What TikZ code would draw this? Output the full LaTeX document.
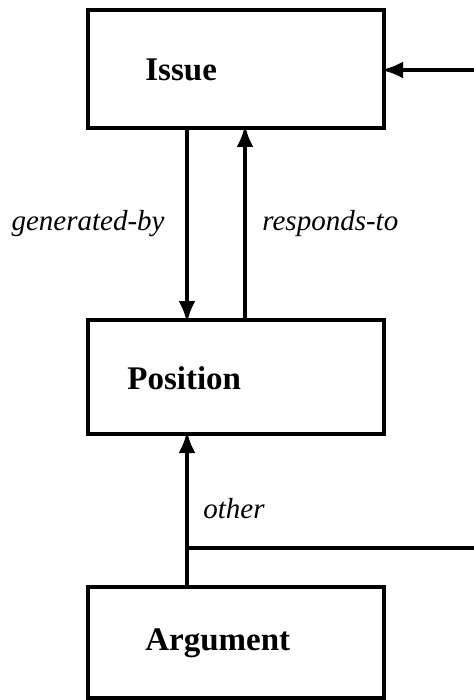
\documentclass[tikz,border=0pt]{standalone}
\usepackage{fontspec}
\setmainfont{Liberation Serif}
\usetikzlibrary{arrows.meta}
\tikzset{
  box/.style={draw, line width=2pt, minimum width=148pt, inner sep=0pt, outer sep=0pt},
  boxtext/.style={anchor=west, inner sep=0pt, font=\fontsize{16.5}{19}\selectfont\bfseries},
  linktext/.style={inner sep=0pt, font=\fontsize{14.5}{17}\selectfont\itshape},
  link/.style={line width=2pt, shorten >=-1.5pt, -{Latex[length=11pt,width=8.5pt]}},
}
\begin{document}
\begin{tikzpicture}[x=0.5pt, y=-0.5pt]
        \useasboundingbox (0,0) rectangle (473,700);
        % the three boxes
        \node[box, minimum height=59pt] (issue) at (236,69) {};
        \node[box, minimum height=57pt] (position) at (236,377) {};
        \node[box, minimum height=55.5pt] (argument) at (236,642.5) {};
        \node[boxtext] (issuetext) at (145,70) {Issue};
        \node[boxtext] (positiontext) at (127,378) {Position};
        \node[boxtext] (argumenttext) at (145,643) {Argument};
        % columns of the connectors
        \coordinate (gen) at (187,0);
        \coordinate (resp) at (245,0);
        \coordinate (loopin) at (480,70);
        \coordinate (other) at (187,548);
        \coordinate (loopout) at (480,548);
        \draw[link] (issue.south -| gen) -- (position.north -| gen);
        \draw[link] (position.north -| resp) -- (issue.south -| resp);
        \draw[link] (argument.north -| gen) -- (position.south -| gen);
        \draw[line width=2pt] (other) -- (loopout);
        \draw[link] (loopin) -- (issue.east |- loopin);
        % labels
        \node[linktext, anchor=east] (genlabel) at (165,224) {generated-by};
        \node[linktext, anchor=west] (resplabel) at (262,224) {responds-to};
        \node[linktext, anchor=west] (otherlabel) at (203,509) {other};
    \end{tikzpicture}
\end{document}
